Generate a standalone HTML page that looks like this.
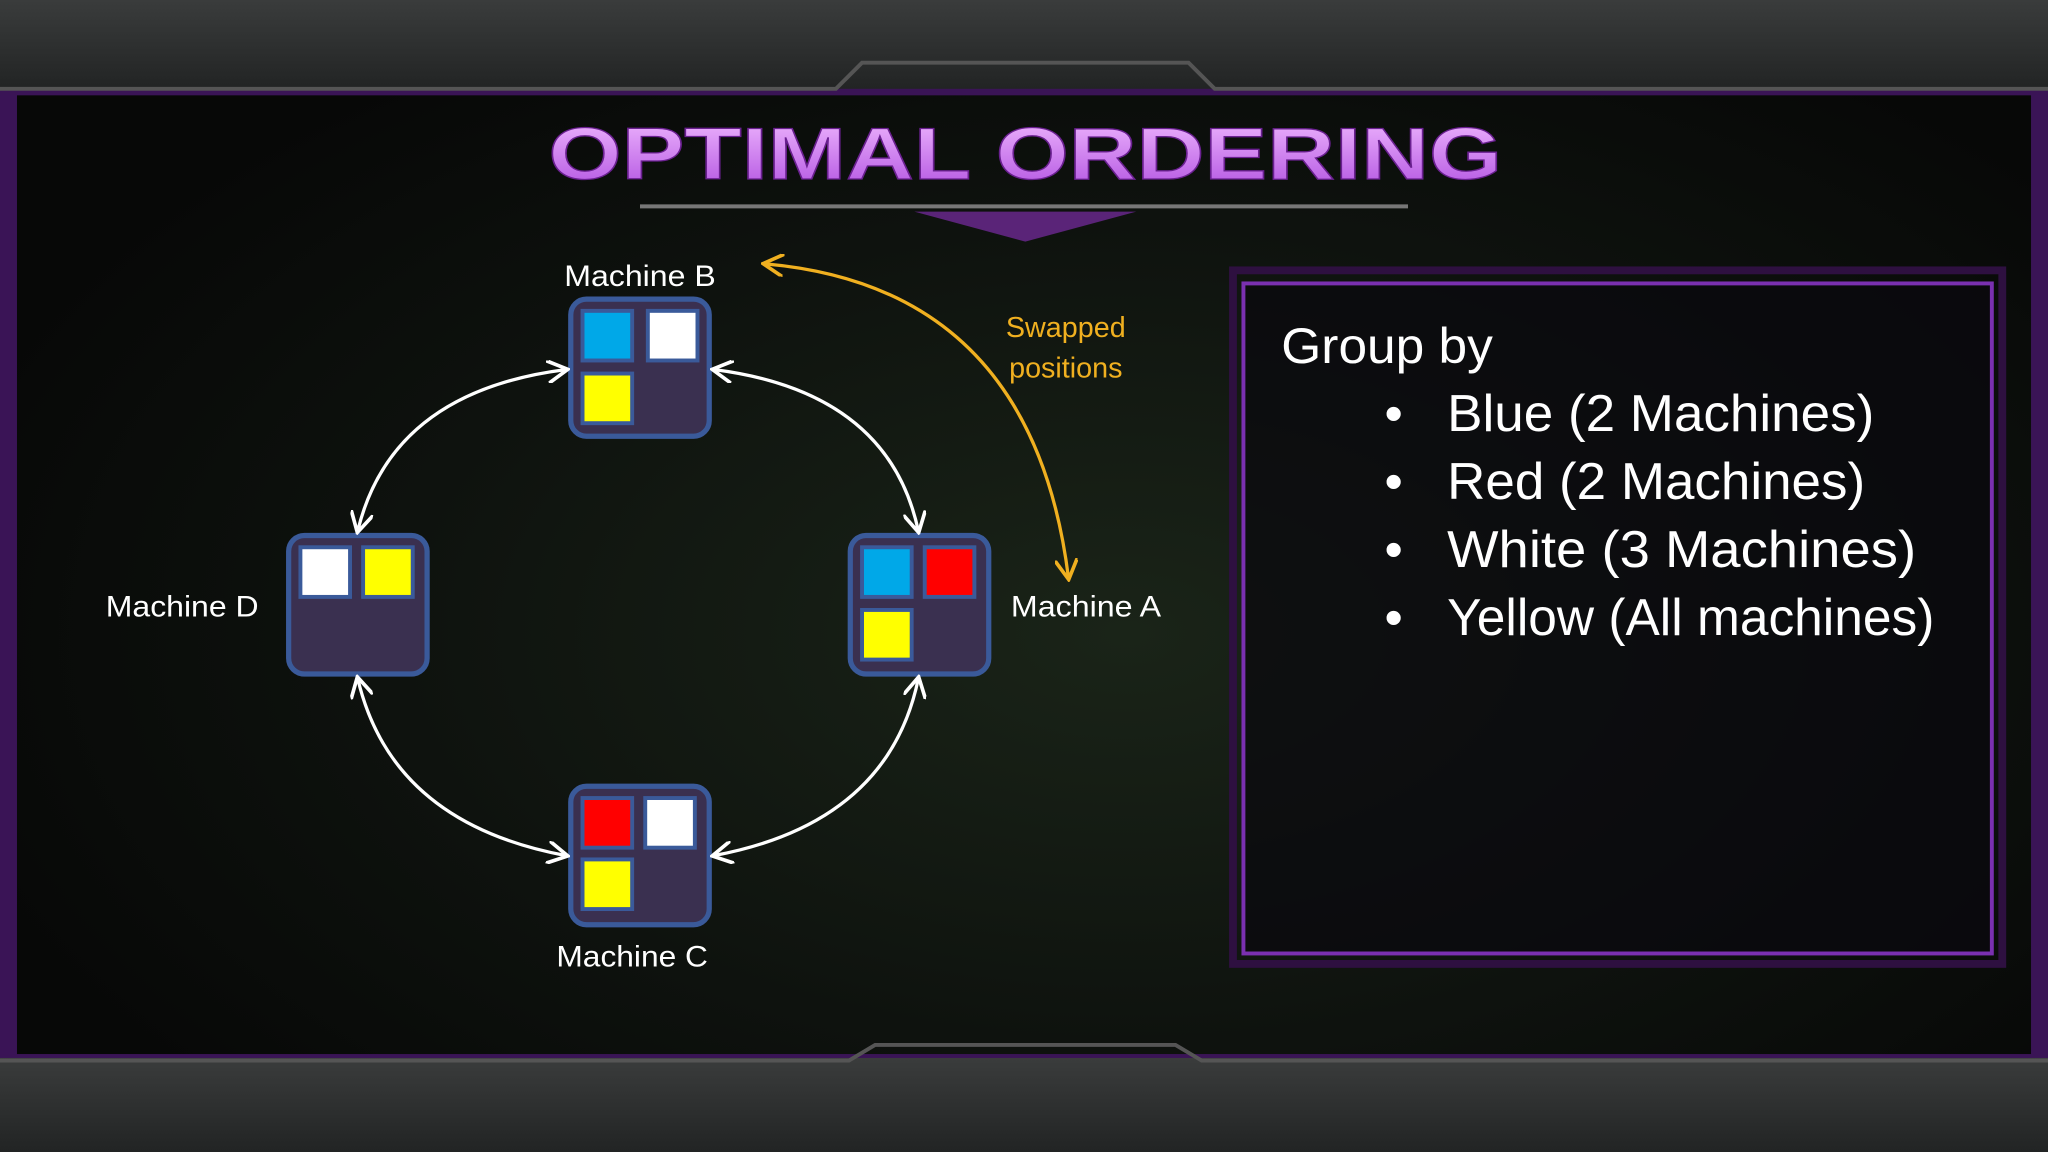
<!DOCTYPE html>
<html><head><meta charset="utf-8"><style>html,body{margin:0;padding:0;background:#0a0c0a;overflow:hidden}svg{display:block}</style></head><body>
<svg width="2048" height="1152" viewBox="0 0 1568 882" preserveAspectRatio="none" xmlns="http://www.w3.org/2000/svg">
<defs>
<radialGradient id="bg" cx="0.55" cy="0.55" r="0.6"><stop offset="0" stop-color="#1a2418"/><stop offset="0.6" stop-color="#0e120e"/><stop offset="1" stop-color="#070807"/></radialGradient>
<linearGradient id="metal" x1="0" y1="0" x2="0" y2="1"><stop offset="0" stop-color="#3a3c3c"/><stop offset="1" stop-color="#222424"/></linearGradient>
<linearGradient id="title" x1="0" y1="0" x2="0" y2="1"><stop offset="0" stop-color="#f0b8ff"/><stop offset="1" stop-color="#b050e0"/></linearGradient>
<marker id="w" viewBox="0 0 10 10" refX="8" refY="5" markerWidth="7" markerHeight="7" orient="auto-start-reverse"><path d="M0,0 L9,5 L0,10" fill="none" stroke="#fff" stroke-width="1.6"/></marker>
<marker id="o" viewBox="0 0 10 10" refX="8" refY="5" markerWidth="7" markerHeight="7" orient="auto-start-reverse"><path d="M0,0 L9,5 L0,10" fill="none" stroke="#f0b020" stroke-width="1.6"/></marker>
</defs>
<rect width="1568" height="882" fill="url(#bg)"/>
<rect x="0" y="60" width="1568" height="760" fill="none" stroke="#3a1456" stroke-width="26"/>
<rect x="0" y="0" width="1568" height="68" fill="url(#metal)"/>
<path d="M0,68 L640,68 L660,48 L910,48 L930,68 L1568,68" stroke="#555" stroke-width="3" fill="none"/>
<rect x="0" y="810" width="1568" height="72" fill="url(#metal)"/>
<path d="M0,812 L650,812 L670,800 L900,800 L920,812 L1568,812" stroke="#555" stroke-width="3" fill="none"/>
<text x="420" y="137" textLength="730" lengthAdjust="spacingAndGlyphs" font-family="Liberation Sans, sans-serif" font-weight="bold" font-size="56" fill="url(#title)" stroke="#6a2090" stroke-width="1">OPTIMAL ORDERING</text>
<line x1="490" y1="158" x2="1078" y2="158" stroke="#777" stroke-width="3"/>
<path d="M700,162 L785,185 L870,162 Z" fill="#5a2478"/>
<rect x="952" y="217" width="573" height="513" fill="#0a080e" fill-opacity="0.7" stroke="#7a30b0" stroke-width="3"/>
<rect x="944" y="207" width="589" height="531" fill="none" stroke="#2e1040" stroke-width="6"/>
<g font-family="Liberation Sans, sans-serif" fill="#fff">
<text x="981" y="278" font-size="38" textLength="162" lengthAdjust="spacingAndGlyphs">Group by</text>
<g font-size="40">
<text x="1060" y="330">•</text><text x="1108" y="330" textLength="327" lengthAdjust="spacingAndGlyphs">Blue (2 Machines)</text>
<text x="1060" y="382">•</text><text x="1108" y="382" textLength="320" lengthAdjust="spacingAndGlyphs">Red (2 Machines)</text>
<text x="1060" y="434">•</text><text x="1108" y="434" textLength="359" lengthAdjust="spacingAndGlyphs">White (3 Machines)</text>
<text x="1060" y="486">•</text><text x="1108" y="486" textLength="373" lengthAdjust="spacingAndGlyphs">Yellow (All machines)</text>
</g>
<g font-size="23">
<text x="432" y="219" textLength="116" lengthAdjust="spacingAndGlyphs">Machine B</text>
<text x="81" y="472" textLength="117" lengthAdjust="spacingAndGlyphs">Machine D</text>
<text x="774" y="472" textLength="115" lengthAdjust="spacingAndGlyphs">Machine A</text>
<text x="426" y="740" textLength="116" lengthAdjust="spacingAndGlyphs">Machine C</text>
</g>
<text x="816" y="258" font-size="22" fill="#f0b020" text-anchor="middle">Swapped</text>
<text x="816" y="289" font-size="22" fill="#f0b020" text-anchor="middle">positions</text>
</g>
<g stroke="#3a5a9a" stroke-width="4" fill="#3a3050">
<rect x="437" y="229" width="106" height="105" rx="12"/>
<rect x="221" y="410" width="106" height="106" rx="12"/>
<rect x="651" y="410" width="106" height="106" rx="12"/>
<rect x="437" y="602" width="106" height="106" rx="12"/>
</g>
<g stroke="#3a5a9a" stroke-width="3">
<rect x="446" y="238" width="38" height="38" fill="#00a8e8"/><rect x="496" y="238" width="38" height="38" fill="#fff"/><rect x="446" y="286" width="38" height="38" fill="#ffff00"/>
<rect x="230" y="419" width="38" height="38" fill="#fff"/><rect x="278" y="419" width="38" height="38" fill="#ffff00"/>
<rect x="660" y="419" width="38" height="38" fill="#00a8e8"/><rect x="708" y="419" width="38" height="38" fill="#ff0000"/><rect x="660" y="467" width="38" height="38" fill="#ffff00"/>
<rect x="446" y="611" width="38" height="38" fill="#ff0000"/><rect x="494" y="611" width="38" height="38" fill="#fff"/><rect x="446" y="658" width="38" height="38" fill="#ffff00"/>
</g>
<g fill="none" stroke="#fff" stroke-width="2.5">
<path d="M433,283 Q300,300 274,406" marker-start="url(#w)" marker-end="url(#w)"/>
<path d="M547,283 Q680,300 703,406" marker-start="url(#w)" marker-end="url(#w)"/>
<path d="M274,520 Q300,630 433,655" marker-start="url(#w)" marker-end="url(#w)"/>
<path d="M703,520 Q680,630 547,655" marker-start="url(#w)" marker-end="url(#w)"/>
</g>
<path d="M586,202 Q790,220 818,442" fill="none" stroke="#f0b020" stroke-width="2.5" marker-start="url(#o)" marker-end="url(#o)"/>
</svg>
</body></html>
